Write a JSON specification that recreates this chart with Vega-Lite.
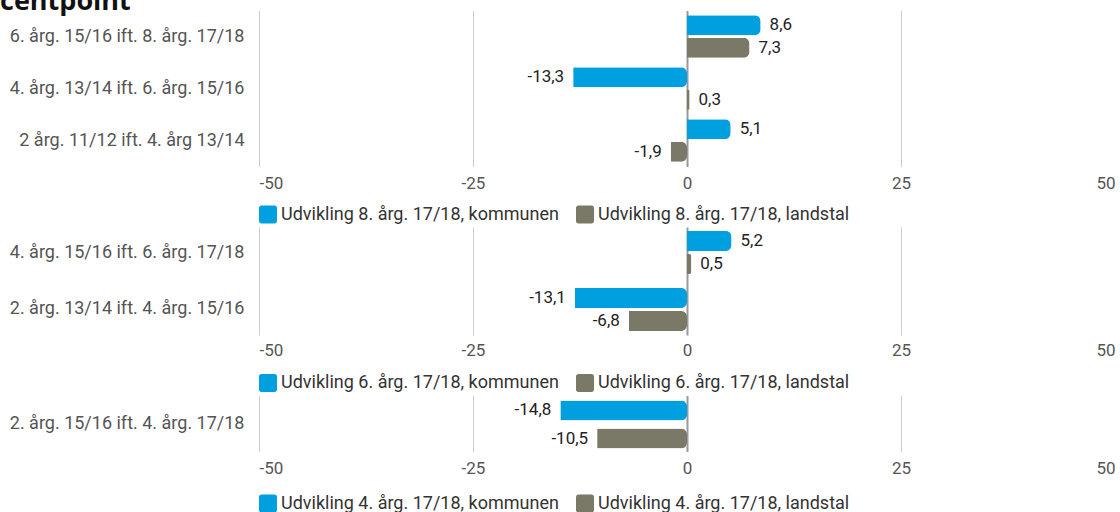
{
  "$schema": "https://vega.github.io/schema/vega-lite/v6.json",
  "padding": {"left": 0, "top": -12.5, "right": 0, "bottom": 0},
  "title": {"text": "centpoint", "anchor": "start", "frame": "bounds", "fontSize": 27, "fontWeight": "bold", "color": "#111", "font": "Open Sans", "offset": -5},
  "config": {
    "font": "Roboto",
    "view": {"stroke": null},
    "locale": {"number": {"decimal": ",", "thousands": ".", "grouping": [3], "currency": ["", " kr."], "minus": "-"}},
    "axisX": {"title": null, "domain": false, "ticks": false, "labelFontSize": 17, "labelColor": "#555", "labelFont": "Roboto", "labelPadding": 9, "format": "d",
      "gridColor": {"condition": {"test": "datum.value === 0", "value": "#999"}, "value": "#ccc"},
      "gridWidth": {"condition": {"test": "datum.value === 0", "value": 2}, "value": 1}},
    "axisY": {"title": null, "domain": false, "ticks": false, "grid": false, "labelFontSize": 18, "labelColor": "#555", "labelFont": "Roboto", "labelPadding": 15, "minExtent": 259, "maxExtent": 259, "labelLimit": 300},
    "legend": {"title": null, "orient": "bottom", "direction": "horizontal", "symbolType": "M -0.7 -1 H 0.7 Q 1 -1 1 -0.7 V 0.7 Q 1 1 0.7 1 H -0.7 Q -1 1 -1 0.7 V -0.7 Q -1 -1 -0.7 -1 Z", "symbolSize": 324, "symbolStrokeWidth": 0, "symbolOpacity": 1, "labelFontSize": 18, "labelColor": "#333", "labelFont": "Roboto", "labelOffset": 4, "columnPadding": 17, "offset": 14, "padding": 0, "labelLimit": 400},
    "text": {"fontSize": 17, "color": "#222", "font": "Roboto"}
  },
  "datasets": {
    "d": [
      {"p": 1, "cat": "6. årg. 15/16 ift. 8. årg. 17/18", "s": "Udvikling 8. årg. 17/18, kommunen", "v": 8.6},
      {"p": 1, "cat": "6. årg. 15/16 ift. 8. årg. 17/18", "s": "Udvikling 8. årg. 17/18, landstal", "v": 7.3},
      {"p": 1, "cat": "4. årg. 13/14 ift. 6. årg. 15/16", "s": "Udvikling 8. årg. 17/18, kommunen", "v": -13.3},
      {"p": 1, "cat": "4. årg. 13/14 ift. 6. årg. 15/16", "s": "Udvikling 8. årg. 17/18, landstal", "v": 0.3},
      {"p": 1, "cat": "2 årg. 11/12 ift. 4. årg 13/14", "s": "Udvikling 8. årg. 17/18, kommunen", "v": 5.1},
      {"p": 1, "cat": "2 årg. 11/12 ift. 4. årg 13/14", "s": "Udvikling 8. årg. 17/18, landstal", "v": -1.9},
      {"p": 2, "cat": "4. årg. 15/16 ift. 6. årg. 17/18", "s": "Udvikling 6. årg. 17/18, kommunen", "v": 5.2},
      {"p": 2, "cat": "4. årg. 15/16 ift. 6. årg. 17/18", "s": "Udvikling 6. årg. 17/18, landstal", "v": 0.5},
      {"p": 2, "cat": "2. årg. 13/14 ift. 4. årg. 15/16", "s": "Udvikling 6. årg. 17/18, kommunen", "v": -13.1},
      {"p": 2, "cat": "2. årg. 13/14 ift. 4. årg. 15/16", "s": "Udvikling 6. årg. 17/18, landstal", "v": -6.8},
      {"p": 3, "cat": "2. årg. 15/16 ift. 4. årg. 17/18", "s": "Udvikling 4. årg. 17/18, kommunen", "v": -14.8},
      {"p": 3, "cat": "2. årg. 15/16 ift. 4. årg. 17/18", "s": "Udvikling 4. årg. 17/18, landstal", "v": -10.5}
    ]
  },
  "spacing": 3.5,
  "resolve": {"scale": {"color": "independent", "y": "independent", "yOffset": "independent"}, "legend": {"color": "independent"}},
  "vconcat": [
    {
      "width": 856, "height": 156,
      "data": {"name": "d"},
      "transform": [{"filter": "datum.p == 1"}],
      "encoding": {
        "y": {"field": "cat", "type": "nominal", "sort": null, "scale": {"paddingInner": 0, "paddingOuter": 0}},
        "yOffset": {"field": "s", "type": "nominal", "sort": null, "scale": {"paddingInner": 0.11, "paddingOuter": 0.21}},
        "x": {"field": "v", "type": "quantitative", "scale": {"domain": [-50, 50]}, "axis": {"values": [-50, -25, 0, 25, 50]}}
      },
      "layer": [
        {"mark": {"type": "bar", "cornerRadiusEnd": 6}, "encoding": {"color": {"field": "s", "type": "nominal", "sort": null, "scale": {"range": ["#009fe0", "#7a7866"]}}}},
        {"transform": [{"filter": "datum.v >= 0"}], "mark": {"type": "text", "align": "left", "dx": 9}, "encoding": {"text": {"field": "v", "type": "quantitative", "format": ".1f"}}},
        {"transform": [{"filter": "datum.v < 0"}], "mark": {"type": "text", "align": "right", "dx": -9}, "encoding": {"text": {"field": "v", "type": "quantitative", "format": ".1f"}}}
      ]
    },
    {
      "width": 856, "height": 108,
      "data": {"name": "d"},
      "transform": [{"filter": "datum.p == 2"}],
      "encoding": {
        "y": {"field": "cat", "type": "nominal", "sort": null, "scale": {"paddingInner": 0.105, "paddingOuter": 0}},
        "yOffset": {"field": "s", "type": "nominal", "sort": null, "scale": {"paddingInner": 0.13, "paddingOuter": 0.17}},
        "x": {"field": "v", "type": "quantitative", "scale": {"domain": [-50, 50]}, "axis": {"values": [-50, -25, 0, 25, 50], "labelPadding": 7}}
      },
      "layer": [
        {"mark": {"type": "bar", "cornerRadiusEnd": 6}, "encoding": {"color": {"field": "s", "type": "nominal", "sort": null, "scale": {"range": ["#009fe0", "#7a7866"]}, "legend": {"offset": 16}}}},
        {"transform": [{"filter": "datum.v >= 0"}], "mark": {"type": "text", "align": "left", "dx": 9}, "encoding": {"text": {"field": "v", "type": "quantitative", "format": ".1f"}}},
        {"transform": [{"filter": "datum.v < 0"}], "mark": {"type": "text", "align": "right", "dx": -9}, "encoding": {"text": {"field": "v", "type": "quantitative", "format": ".1f"}}}
      ]
    },
    {
      "width": 856, "height": 56,
      "data": {"name": "d"},
      "transform": [{"filter": "datum.p == 3"}],
      "encoding": {
        "y": {"field": "cat", "type": "nominal", "sort": null, "scale": {"paddingInner": 0, "paddingOuter": 0.0185, "align": 1}},
        "yOffset": {"field": "s", "type": "nominal", "sort": null, "scale": {"paddingInner": 0.286, "paddingOuter": 0.107}},
        "x": {"field": "v", "type": "quantitative", "scale": {"domain": [-50, 50]}, "axis": {"values": [-50, -25, 0, 25, 50]}}
      },
      "layer": [
        {"mark": {"type": "bar", "cornerRadiusEnd": 6}, "encoding": {"color": {"field": "s", "type": "nominal", "sort": null, "scale": {"range": ["#009fe0", "#7a7866"]}, "legend": {"offset": 18}}}},
        {"transform": [{"filter": "datum.v >= 0"}], "mark": {"type": "text", "align": "left", "dx": 9}, "encoding": {"text": {"field": "v", "type": "quantitative", "format": ".1f"}}},
        {"transform": [{"filter": "datum.v < 0"}], "mark": {"type": "text", "align": "right", "dx": -9}, "encoding": {"text": {"field": "v", "type": "quantitative", "format": ".1f"}}}
      ]
    }
  ]
}
